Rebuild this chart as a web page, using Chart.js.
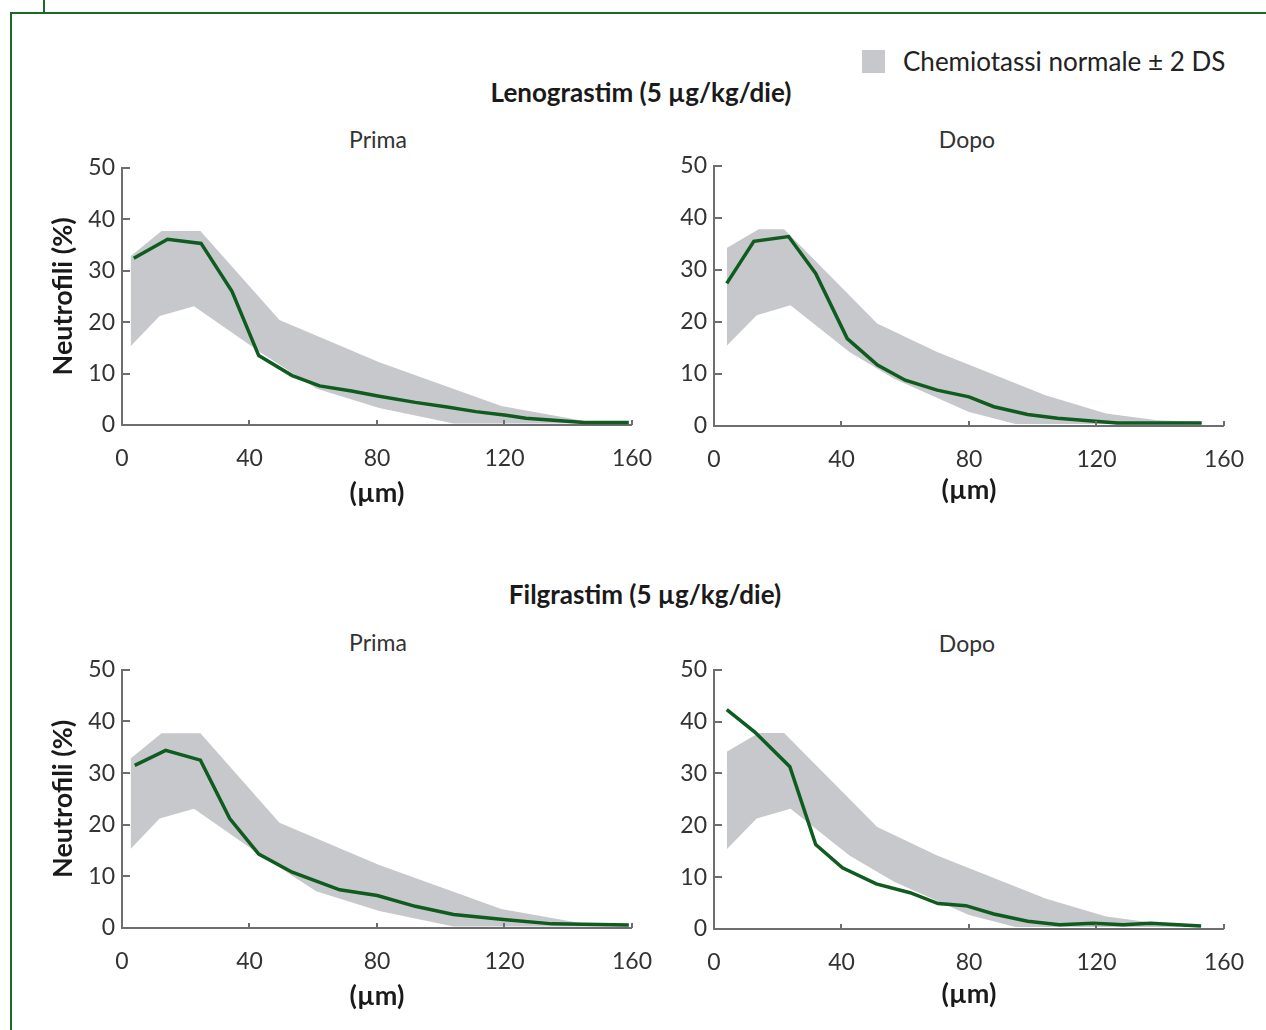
<!DOCTYPE html>
<html>
<head>
<meta charset="utf-8">
<script src="https://cdn.jsdelivr.net/npm/chart.js@4.4.1/dist/chart.umd.min.js"></script>
<style>
  html, body { margin: 0; padding: 0; background: #fff; }
  body { width: 1266px; height: 1030px; position: relative; overflow: hidden; font-family: Lato, sans-serif; color: #222; }
  .frame-top { position: absolute; left: 10px; top: 12px; width: 1256px; height: 2px; background: #1c6a2b; }
  .frame-left { position: absolute; left: 10px; top: 12px; width: 2px; height: 1018px; background: #1c6a2b; }
  .frame-tick { position: absolute; left: 43px; top: 0; width: 2px; height: 13px; background: #1c6a2b; }
  .lbl { position: absolute; transform: translate(-50%, -50%); white-space: nowrap; }
  .group { font-weight: bold; font-size: 26px; color: #1a1a1a; }
  .sub { font-size: 23px; color: #333; }
  .panel { position: absolute; }
  .legend { position: absolute; left: 862px; top: 45px; display: flex; align-items: center; }
  .legend .sw { width: 23px; height: 23px; background: #c6c8cb; margin-right: 18px; }
  .legend span { font-size: 26px; color: #222; }
</style>
</head>
<body>
<div class="frame-top"></div>
<div class="frame-left"></div>
<div class="frame-tick"></div>

<div class="legend"><div class="sw"></div><span>Chemiotassi normale ± 2 DS</span></div>

<div class="lbl group" style="left:641px; top:92px;">Lenograstim (5 µg/kg/die)</div>
<div class="lbl sub" style="left:378px; top:139px;">Prima</div>
<div class="lbl sub" style="left:967px; top:139px;">Dopo</div>

<div class="lbl group" style="left:645px; top:594px;">Filgrastim (5 µg/kg/die)</div>
<div class="lbl sub" style="left:378px; top:642px;">Prima</div>
<div class="lbl sub" style="left:967px; top:643px;">Dopo</div>

<canvas id="c1" class="panel" style="left:42px; top:147px;" width="630" height="362"></canvas>
<canvas id="c2" class="panel" style="left:634px; top:145px;" width="630" height="361"></canvas>
<canvas id="c3" class="panel" style="left:42px; top:649px;" width="630" height="363"></canvas>
<canvas id="c4" class="panel" style="left:634px; top:649px;" width="630" height="361"></canvas>

<script>
// axis ticks
const xTicks = [0, 40, 80, 120, 160];
const yTicks = [0, 10, 20, 30, 40, 50];

// normal chemotaxis band (+/- 2 DS), left panels
const bandLeftUpperX = [2.7, 12.4, 24.6, 49.4, 80.7, 119, 145, 159];
const bandLeftUpperY = [32.8, 37.7, 37.7, 20.4, 12.2, 3.7, 0.8, 0.5];
const bandLeftLowerX = [2.7, 11.8, 22.6, 43.5, 60.9, 80.7, 104, 159];
const bandLeftLowerY = [15.3, 21.2, 23.1, 14.1, 7.1, 3.3, 0.3, 0.3];

// normal band, right panels
const bandRightUpperX = [4, 14, 22, 51.2, 70, 104, 123, 139, 153];
const bandRightUpperY = [34.2, 37.8, 37.8, 19.7, 14.2, 5.9, 2.4, 1.1, 0.8];
const bandRightLowerX = [4, 13.4, 24, 42.5, 56.5, 80, 94.6, 153];
const bandRightLowerY = [15.4, 21.3, 23.2, 14.2, 9.1, 2.7, 0.4, 0.4];

// Lenograstim
const lenoPrimaX = [3.7, 14.3, 24.8, 34.5, 42.9, 53.4, 62, 72, 80.7, 92, 102, 111, 120.5, 126.7, 145, 159];
const lenoPrimaY = [32.4, 36.1, 35.3, 26.0, 13.5, 9.6, 7.6, 6.6, 5.6, 4.4, 3.5, 2.6, 1.9, 1.3, 0.5, 0.5];
const lenoDopoX = [4, 12.5, 23.4, 31.9, 41.8, 51.3, 60, 70, 80, 87.8, 98.4, 107.8, 119.6, 126.5, 153];
const lenoDopoY = [27.4, 35.5, 36.4, 29.3, 16.8, 11.7, 8.8, 6.9, 5.6, 3.7, 2.2, 1.5, 0.9, 0.6, 0.6];

// Filgrastim
const filgPrimaX = [4, 13.7, 24.6, 33.8, 42.9, 53.4, 68.3, 80.1, 92, 104, 120.5, 135, 159];
const filgPrimaY = [31.5, 34.4, 32.5, 21.2, 14.3, 10.8, 7.4, 6.3, 4.2, 2.6, 1.6, 0.8, 0.6];
const filgDopoX = [4, 12.8, 23.8, 31.9, 40.3, 50.9, 61.5, 70.3, 79, 87.8, 98.4, 108.4, 119, 128.4, 137, 152.8];
const filgDopoY = [42.3, 38.0, 31.3, 16.3, 11.8, 8.7, 7.0, 4.9, 4.5, 2.9, 1.5, 0.8, 1.1, 0.8, 1.1, 0.6];

const GREEN = '#0f5b20';
const BAND = '#c6c8cb';
const AXIS = '#6e6e72';

const pts = (xs, ys) => xs.map((x, i) => ({ x: x, y: ys[i] }));

// inward tick marks like the original figure
const innerTicks = {
  id: 'innerTicks',
  afterDraw(chart) {
    const ctx = chart.ctx;
    const xs = chart.scales.x, ys = chart.scales.y;
    ctx.save();
    ctx.strokeStyle = AXIS;
    ctx.lineWidth = 2;
    ctx.beginPath();
    yTicks.slice(1).forEach(v => {
      const py = Math.round(ys.getPixelForValue(v));
      ctx.moveTo(xs.left, py);
      ctx.lineTo(xs.left + 8, py);
    });
    xTicks.slice(1).forEach(v => {
      const px = Math.round(xs.getPixelForValue(v));
      ctx.moveTo(px, ys.bottom);
      ctx.lineTo(px, ys.bottom - 5);
    });
    ctx.stroke();
    ctx.restore();
  }
};

function makePanel(id, lineX, lineY, upX, upY, loX, loY, showYTitle, xh) {
  const ctx = document.getElementById(id).getContext('2d');
  return new Chart(ctx, {
    type: 'line',
    data: {
      datasets: [
        {
          data: pts(lineX, lineY),
          borderColor: GREEN,
          borderWidth: 3.5,
          pointRadius: 0,
          fill: false,
          tension: 0
        },
        {
          data: pts(upX, upY),
          borderWidth: 0,
          borderColor: 'rgba(0,0,0,0)',
          backgroundColor: BAND,
          pointRadius: 0,
          fill: '+1',
          tension: 0
        },
        {
          data: pts(loX, loY),
          borderWidth: 0,
          borderColor: 'rgba(0,0,0,0)',
          pointRadius: 0,
          fill: false,
          tension: 0
        }
      ]
    },
    options: {
      responsive: false,
      animation: false,
      layout: { padding: 0 },
      plugins: { legend: { display: false }, tooltip: { enabled: false } },
      scales: {
        x: {
          type: 'linear',
          min: 0,
          max: 160,
          afterBuildTicks: s => { s.ticks = xTicks.map(v => ({ value: v })); },
          afterFit: s => { s.height = xh; },
          ticks: { color: '#333', font: { family: 'Lato', size: 23 }, padding: 20, maxRotation: 0 },
          grid: { drawOnChartArea: false, drawTicks: false },
          border: { color: AXIS, width: 2 },
          title: { display: true, text: '(µm)', color: '#1a1a1a', font: { family: 'Lato', size: 27, weight: 'bold' }, padding: { top: 0, bottom: 0 } }
        },
        y: {
          min: 0,
          max: 50,
          afterBuildTicks: s => { s.ticks = yTicks.map(v => ({ value: v })); },
          afterFit: s => { s.width = 80; },
          ticks: { color: '#333', font: { family: 'Lato', size: 23 }, padding: 7 },
          grid: { drawOnChartArea: false, drawTicks: false },
          border: { color: AXIS, width: 2 },
          title: { display: showYTitle, text: 'Neutrofili (%)', color: '#1a1a1a', font: { family: 'Lato', size: 27, weight: 'bold' }, padding: { top: 5, bottom: 0 } }
        }
      }
    },
    plugins: [innerTicks]
  });
}

makePanel('c1', lenoPrimaX, lenoPrimaY, bandLeftUpperX, bandLeftUpperY, bandLeftLowerX, bandLeftLowerY, true, 84);
makePanel('c2', lenoDopoX, lenoDopoY, bandRightUpperX, bandRightUpperY, bandRightLowerX, bandRightLowerY, false, 80);
makePanel('c3', filgPrimaX, filgPrimaY, bandLeftUpperX, bandLeftUpperY, bandLeftLowerX, bandLeftLowerY, true, 84);
makePanel('c4', filgDopoX, filgDopoY, bandRightUpperX, bandRightUpperY, bandRightLowerX, bandRightLowerY, false, 81);
</script>
</body>
</html>
